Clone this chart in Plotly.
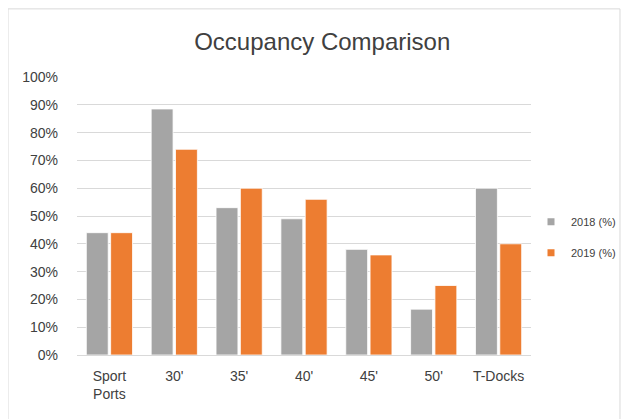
import plotly.graph_objects as go

categories = ["Sport<br>Ports", "30'", "35'", "40'", "45'", "50'", "T-Docks"]
values_2018 = [44, 88.5, 53, 49, 38, 16.5, 60]
values_2019 = [44, 74, 60, 56, 36, 25, 40]
series_names = ["2018 (%)", "2019 (%)"]
colors = ["#A5A5A5", "#ED7D31"]
y_ticks = [0, 10, 20, 30, 40, 50, 60, 70, 80, 90, 100]
y_tick_labels = [f"{v}%" for v in y_ticks]

fig = go.Figure()
for name, vals, col in zip(series_names, [values_2018, values_2019], colors):
    fig.add_trace(go.Bar(name=name, x=categories, y=vals, showlegend=False,
                         marker=dict(color=col, line=dict(color="white", width=0.8))))
# legend entries with small square markers
for name, col in zip(series_names, colors):
    fig.add_trace(go.Scatter(name=name, x=[None], y=[None], mode="markers", legendgroup=name,
                             marker=dict(symbol="square", size=7, color=col)))

font_family = "Liberation Sans, Arial, sans-serif"
fig.update_layout(
    width=631, height=419,
    margin=dict(l=69, r=108, t=69, b=72, autoexpand=False),
    paper_bgcolor="white", plot_bgcolor="white",
    barmode="group", bargap=0.25, bargroupgap=0.1,
    title=dict(text="Occupancy Comparison", x=0.498, xanchor="center", y=0.919, yanchor="middle",
               font=dict(family=font_family, size=24, color="#404040")),
    font=dict(family=font_family, size=14, color="#404040"),
    legend=dict(x=1.0, y=0.424, xanchor="left", yanchor="middle",
                font=dict(size=11, color="#404040"), itemwidth=30, tracegroupgap=12,
                bgcolor="rgba(0,0,0,0)"),
    showlegend=True,
)
fig.update_yaxes(range=[0, 100], tickvals=y_ticks, ticktext=y_tick_labels,
                 showgrid=True, gridcolor="#D9D9D9", gridwidth=1, zeroline=False,
                 ticks="", ticklen=0, ticklabelstandoff=18,
                 tickfont=dict(size=14, color="#404040"))
fig.update_xaxes(showline=True, linecolor="#D9D9D9", linewidth=1, ticks="",
                 ticklabelstandoff=8, tickfont=dict(size=14, color="#404040"))
fig.add_shape(type="rect", xref="paper", yref="paper", x0=-0.152, x1=1.196, y0=-0.3, y1=1.245,
              line=dict(color="#D9D9D9", width=1), fillcolor="rgba(0,0,0,0)", layer="below")
fig.write_html("out.html")
